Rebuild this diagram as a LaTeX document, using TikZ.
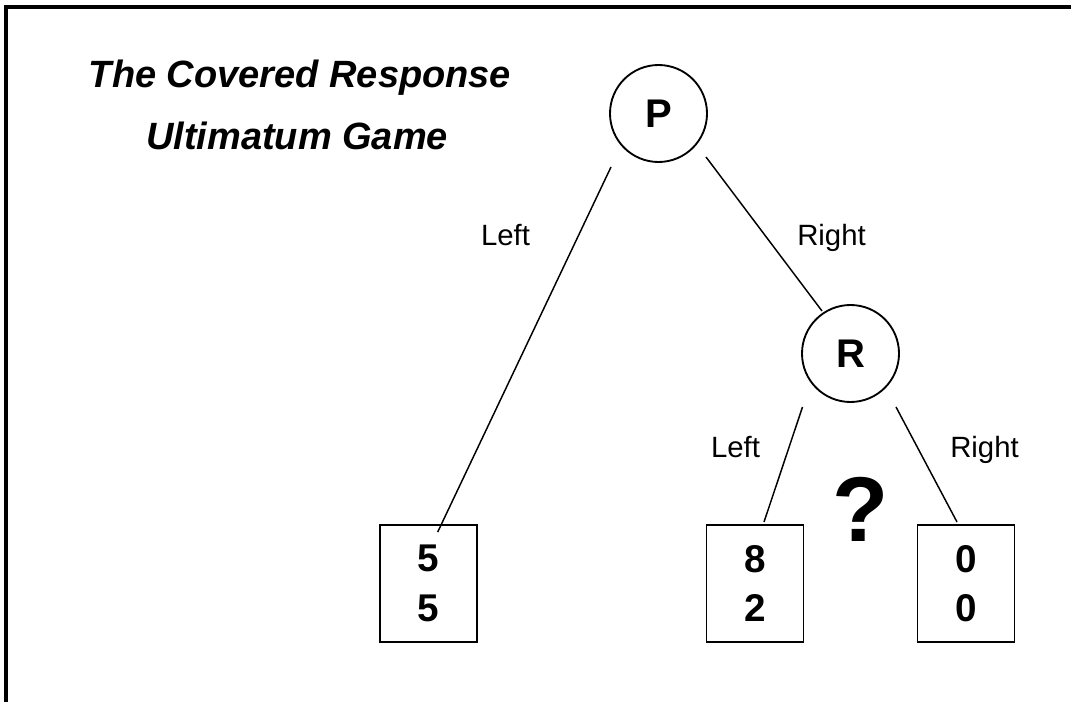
\documentclass[tikz,border=0pt]{standalone}
\usepackage{fontspec}
\setmainfont{Liberation Sans}
\begin{document}
\begin{tikzpicture}[x=0.75pt,y=-0.75pt,
  every node/.style={inner sep=0pt,outer sep=0pt},
  frame/.style={line width=2.5pt,line join=miter},
  player/.style={circle,draw,line width=1.4pt,minimum size=72.75pt,
    font=\fontsize{30}{36}\selectfont\bfseries},
  payoff/.style={rectangle,draw,line width=1.4pt,minimum width=72.75pt,
    minimum height=87.75pt,align=center,
    font=\fontsize{29}{37}\selectfont\bfseries},
  branch/.style={line width=1.1pt},
  move/.style={anchor=base,font=\fontsize{22}{26}\selectfont},
  heading/.style={anchor=base,font=\fontsize{28.5}{34}\selectfont\bfseries\itshape}]

\useasboundingbox (0,0) rectangle (1071,702);

% frame along the top and left edges
\draw[frame] (6,702) -- (6,7) -- (1071,7);

% title
\node[heading] (title-1) at (300,88) {The Covered Response};
\node[heading] (title-2) at (297,150) {Ultimatum Game};

% decision nodes
\node[player] (P) at (658.5,113.5) {P};
\node[player] (R) at (850.5,353.5) {R};

% payoff boxes
\node[payoff] (A) at (428.5,583.5) {5\\5};
\node[payoff] (B) at (755,583.5) {8\\2};
\node[payoff] (C) at (966,583.5) {0\\0};

% end points of the branches
\path (P) ++(-47.5,53.5) coordinate (P-l);
\path (P) ++(47.5,43.5) coordinate (P-r);
\path (R) ++(-28.5,-42.5) coordinate (R-t);
\path (R) ++(-48,53.5) coordinate (R-l);
\path (R) ++(45.5,53.5) coordinate (R-r);
\path (A) ++(9.2,-51.5) coordinate (A-t);
\path (B) ++(9,-61.5) coordinate (B-t);
\path (C) ++(-9,-61.5) coordinate (C-t);

% branches
\draw[branch] (P-l) -- (A-t);
\draw[branch] (P-r) -- (R-t);
\draw[branch] (R-l) -- (B-t);
\draw[branch] (R-r) -- (C-t);

% move labels
\node[move] (mv-pl) at (505.5,246) {Left};
\node[move] (mv-pr) at (831.5,246) {Right};
\node[move] (mv-rl) at (735.5,457.5) {Left};
\node[move] (mv-rr) at (984.5,457.5) {Right};

% hidden response
\node[font=\fontsize{69}{80}\selectfont\bfseries] (q) at (861,509) {?};
\end{tikzpicture}
\end{document}
